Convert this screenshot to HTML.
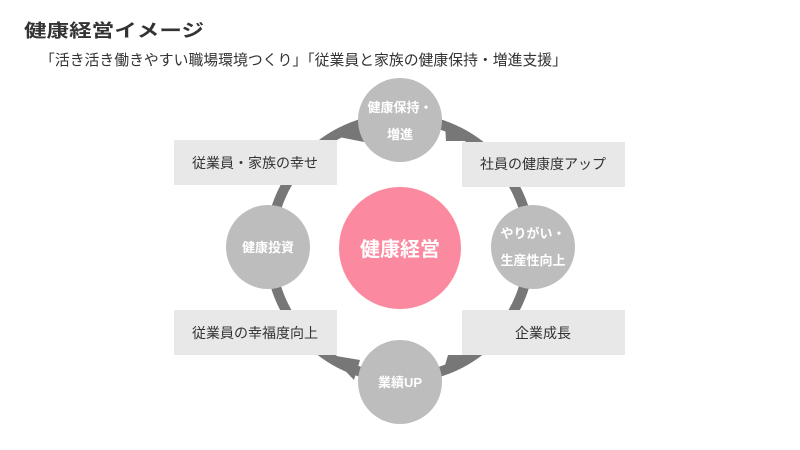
<!DOCTYPE html>
<html><head><meta charset="utf-8"><style>
body{margin:0;background:#fff;}
svg{display:block;font-family:"Liberation Sans","Noto Sans CJK JP",sans-serif;}
</style></head><body>
<svg width="800" height="450" viewBox="0 0 800 450" xmlns="http://www.w3.org/2000/svg">
<text x="24" y="37" font-size="18" font-weight="bold" fill="#333" textLength="180" lengthAdjust="spacingAndGlyphs">健康経営イメージ</text>
<text x="40" y="65" font-size="15" fill="#333" textLength="527" lengthAdjust="spacingAndGlyphs">「活き活き働きやすい職場環境つくり」「従業員と家族の健康保持・増進支援」</text>
<circle cx="400" cy="248" r="130" fill="none" stroke="#777" stroke-width="10"/>
<polygon points="334,136 360,122 364,142" fill="#777"/>
<polygon points="445,124 478,141 446,141" fill="#777"/>
<polygon points="330,355 360,360 354,380" fill="#777"/>
<polygon points="443,372 478,355 448,355" fill="#777"/>
<rect x="174" y="140" width="163" height="45" fill="#e8e8e8"/>
<rect x="462" y="142" width="163" height="45" fill="#e8e8e8"/>
<rect x="174" y="310" width="163" height="45" fill="#e8e8e8"/>
<rect x="462" y="310" width="163" height="45" fill="#e8e8e8"/>
<g font-size="14" fill="#333" text-anchor="middle">
<text x="255" y="168">従業員・家族の幸せ</text>
<text x="543" y="169">社員の健康度アップ</text>
<text x="255" y="338">従業員の幸福度向上</text>
<text x="543" y="338">企業成長</text>
</g>
<g fill="#bdbdbd">
<circle cx="400" cy="120" r="42"/>
<circle cx="268" cy="247" r="42"/>
<circle cx="533" cy="247" r="42"/>
<circle cx="400" cy="382" r="42"/>
</g>
<circle cx="400" cy="248" r="61" fill="#fb8aa0"/>
<g font-size="13" font-weight="bold" fill="#fff" text-anchor="middle">
<text x="400" y="112">健康保持・</text>
<text x="400" y="139">増進</text>
<text x="268" y="252">健康投資</text>
<text x="533" y="238">やりがい・</text>
<text x="533" y="265">生産性向上</text>
<text x="400" y="387">業績UP</text>
</g>
<text x="400" y="256" font-size="20" font-weight="bold" fill="#fff" text-anchor="middle">健康経営</text>
</svg>
</body></html>
